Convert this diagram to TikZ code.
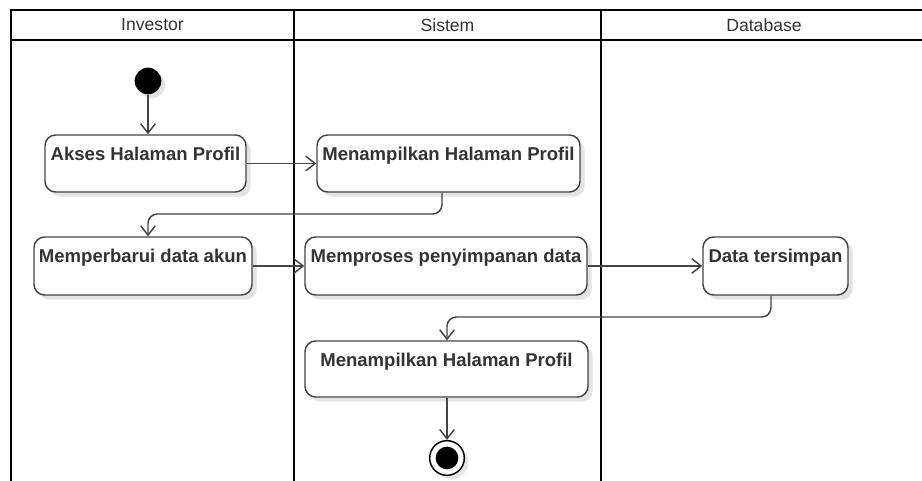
\documentclass[tikz,border=0pt]{standalone}
\usepackage{fontspec}
\setmainfont{Liberation Sans}
\usetikzlibrary{arrows.meta,shadows,calc}
\definecolor{ink}{HTML}{333333}
\definecolor{edge}{HTML}{444444}
\definecolor{shade}{HTML}{E4E4E4}
\tikzset{
  lane/.style={line width=1.6pt,black},
  lanetitle/.style={font=\fontsize{13.2}{15}\selectfont,text=ink},
  act/.style={draw=edge,line width=1.1pt,rounded corners=8pt,fill=white,
    inner xsep=0pt,inner ysep=0pt,text height=18.8pt,
    font=\bfseries\fontsize{13.9}{16}\selectfont,text=ink,
    drop shadow={shadow xshift=3.5pt,shadow yshift=-3.5pt,fill=shade,opacity=1}},
  flow/.style={draw=edge,line width=1.1pt,rounded corners=7pt,
    -{Straight Barb[length=7pt,width=11pt,line width=1.1pt]}},
  startdot/.style={circle,fill=black,minimum size=20pt,inner sep=0pt,
    drop shadow={shadow xshift=3pt,shadow yshift=-3pt,fill=shade,opacity=1}},
  endring/.style={circle,draw=black,line width=1.1pt,fill=white,minimum size=26pt,inner sep=0pt,
    drop shadow={shadow xshift=3pt,shadow yshift=-3pt,fill=shade,opacity=1}},
  enddot/.style={circle,fill=black,minimum size=17pt,inner sep=0pt},
}
\begin{document}
\begin{tikzpicture}[x=0.75pt,y=-0.75pt]
\useasboundingbox (0,0) rectangle (922,481);

% swimlane frame
\draw[lane] (922,10) -- (11,10) -- (11,481);
\draw[lane] (11,40) -- (922,40);
\draw[lane] (294,10) -- (294,481);
\draw[lane] (601,10) -- (601,481);
\node[lanetitle] (tInv) at (152.5,25) {Investor};
\node[lanetitle] (tSis) at (447.5,25) {Sistem};
\node[lanetitle] (tDb)  at (764,25) {Database};

% activities
\node[startdot] (start) at (148,81) {};
\node[act,minimum width=201*0.75pt,text depth=23.95pt] (akses) at (145.5,163.5) {Akses Halaman Profil};
\node[act,minimum width=263*0.75pt,text depth=23.95pt] (tampil1) at (448.5,163.5) {Menampilkan Halaman Profil};
\node[act,minimum width=218*0.75pt,text depth=24.7pt] (update) at (143,266) {Memperbarui data akun};
\node[act,minimum width=282*0.75pt,text depth=24.7pt] (proses) at (446,266) {Memproses penyimpanan data};
\node[act,minimum width=145*0.75pt,text depth=24.7pt] (simpan) at (775.5,266) {Data tersimpan};
\node[act,minimum width=283*0.75pt,text depth=23.2pt] (tampil2) at (446.5,369) {Menampilkan Halaman Profil};
\node[endring] (stop) at (447,458) {};
\node[enddot] at (stop) {};

% control flow
\draw[flow] (start) -- (start |- akses.north);
\draw[flow] (akses.east |- 0,163.5) -- (tampil1.west |- 0,163.5);
\draw[flow] (tampil1.south -| 442,0) -- (442,214) -- (148,214) -- (update.north -| 148,0);
\draw[flow] (update.east) -- (proses.west);
\draw[flow] (proses.east) -- (simpan.west);
\draw[flow] (simpan.south -| 771,0) -- (771,317) -- (447,317) -- (tampil2.north -| 447,0);
\draw[flow] (tampil2.south -| 447,0) -- (stop.north);
\end{tikzpicture}
\end{document}
